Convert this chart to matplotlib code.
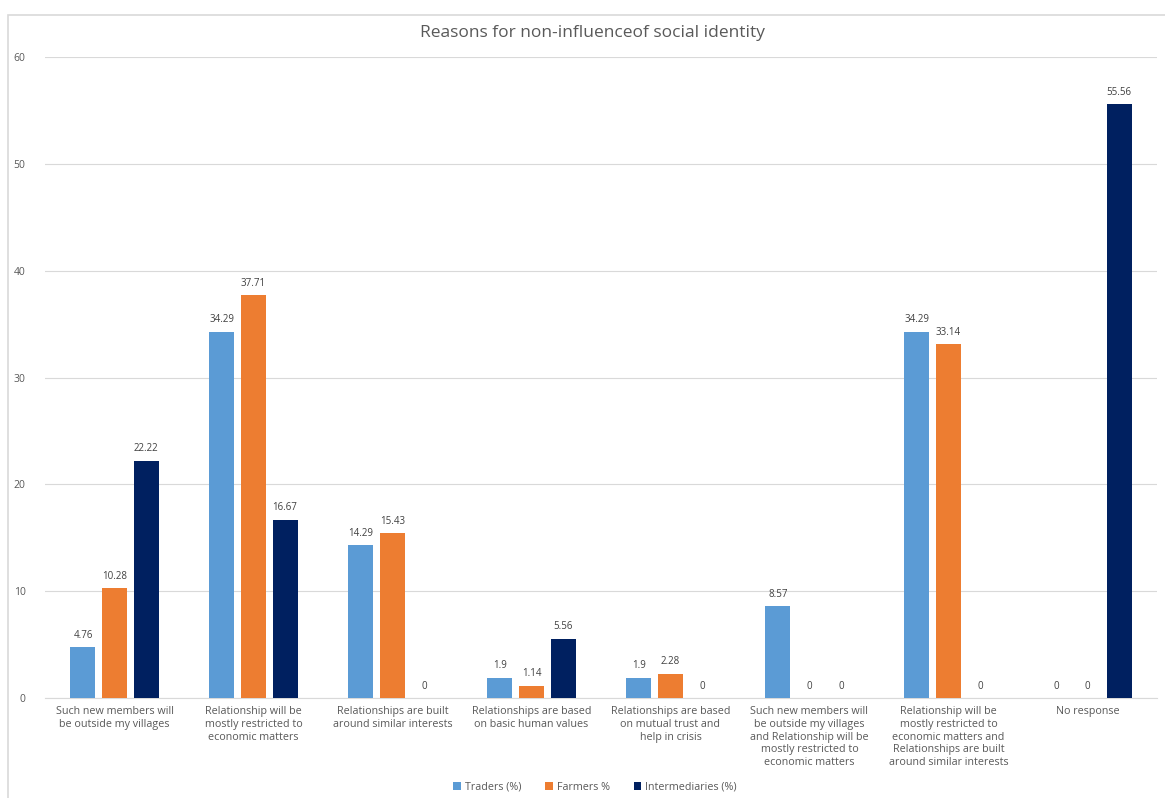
import matplotlib
matplotlib.use("Agg")
import matplotlib.pyplot as plt
import numpy as np
from matplotlib.patches import Rectangle

categories = [
    "Such new members will\nbe outside my villages",
    "Relationship will be\nmostly restricted to\neconomic matters",
    "Relationships are built\naround similar interests",
    "Relationships are based\non basic human values",
    "Relationships are based\non mutual trust and\nhelp in crisis",
    "Such new members will\nbe outside my villages\nand Relationship will be\nmostly restricted to\neconomic matters",
    "Relationship will be\nmostly restricted to\neconomic matters and\nRelationships are built\naround similar interests",
    "No response",
]
traders = [4.76, 34.29, 14.29, 1.9, 1.9, 8.57, 34.29, 0]
farmers = [10.28, 37.71, 15.43, 1.14, 2.28, 0, 33.14, 0]
intermediaries = [22.22, 16.67, 0, 5.56, 0, 0, 0, 55.56]
series_names = ["Traders (%)", "Farmers %", "Intermediaries (%)"]
colors = ["#5B9BD5", "#ED7D31", "#002060"]

plt.rcParams['font.family'] = ['Open Sans', 'DejaVu Sans']

fig = plt.figure(figsize=(11.65, 7.98), dpi=100)
W, H = 1165, 798
# chart border
fig.patches.append(Rectangle((8 / W, -0.05), 1.2, 1 - 15 / H + 0.05, transform=fig.transFigure,
                             fill=False, edgecolor="#D9D9D9", linewidth=1.2))

ax = fig.add_axes([45 / W, 1 - 698 / H, (1157 - 45) / W, (698 - 57) / H])
x = np.arange(len(categories))
bw = 0.18
pitch = 0.227
for i, (vals, name, c) in enumerate(zip([traders, farmers, intermediaries], series_names, colors)):
    pos = x + (i - 1) * pitch
    ax.bar(pos, vals, width=bw, color=c, label=name, zorder=3)
    for p, v in zip(pos, vals):
        ax.text(p, v + 0.6, f"{v:g}", ha="center", va="bottom", fontsize=7, color="#404040")

ax.set_xlim(-0.5, len(categories) - 0.5)
ax.set_ylim(0, 60)
ax.set_yticks(range(0, 61, 10))
ax.grid(axis="y", color="#D9D9D9", linewidth=0.8, zorder=0)
for s in ["top", "right", "left"]:
    ax.spines[s].set_visible(False)
ax.spines["bottom"].set_color("#D9D9D9")
ax.tick_params(axis="both", length=0, labelsize=7.5, colors="#595959")
ax.tick_params(axis="y", pad=14)
ax.set_xticks(x)
ax.set_xticklabels(categories, fontsize=7.75, color="#595959", linespacing=1.2)
ax.tick_params(axis="x", pad=6)

fig.text(592 / W, 1 - 33 / H, "Reasons for non-influenceof social identity", ha="center", va="center",
         fontsize=12.5, color="#595959")

ax.legend(loc="center", bbox_to_anchor=(595 / W, 1 - 787 / H), bbox_transform=fig.transFigure,
          ncol=3, frameon=False, fontsize=7.75, handlelength=0.7, handleheight=0.7,
          columnspacing=2.2, handletextpad=0.4, labelcolor="#595959")

fig.savefig("out.png", dpi=100)
